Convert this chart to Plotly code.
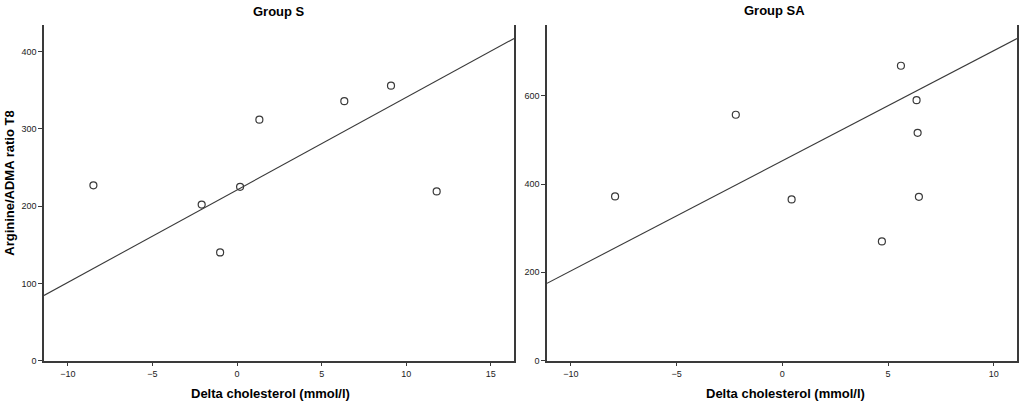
import plotly.graph_objs as go

# Group S: delta cholesterol vs arginine/ADMA ratio T8
s_x = [-8.49, -2.09, -1.0, 0.18, 1.32, 6.34, 9.10, 11.80]
s_y = [227, 202, 140, 225, 312, 336, 356, 219]
s_fit = (221.0, 11.98)  # intercept, slope

# Group SA
sa_x = [-7.91, -2.20, 0.44, 4.71, 5.61, 6.35, 6.40, 6.46]
sa_y = [372, 557, 365, 270, 668, 590, 516, 371]
sa_fit = (452.7, 24.95)

s_xrange = [-11.41, 16.37]
s_yrange = [0, 435]
sa_xrange = [-11.13, 11.1]
sa_yrange = [0, 761]

x_ticks_s = [-10, -5, 0, 5, 10, 15]
y_ticks_s = [0, 100, 200, 300, 400]
x_ticks_sa = [-10, -5, 0, 5, 10]
y_ticks_sa = [0, 200, 400, 600]

INK = "#3a3a3a"
FONT = "Liberation Sans, Arial, sans-serif"


def fit_line(fit, xr):
    b, m = fit
    return xr, [b + m * x for x in xr]


fig = go.Figure()

for xs, ys, fit, xr, ax in [(s_x, s_y, s_fit, s_xrange, ""),
                            (sa_x, sa_y, sa_fit, sa_xrange, "2")]:
    lx, ly = fit_line(fit, xr)
    fig.add_trace(go.Scatter(x=lx, y=ly, mode="lines",
                             line=dict(color=INK, width=1.1),
                             xaxis="x" + ax, yaxis="y" + ax,
                             showlegend=False, hoverinfo="skip"))
    fig.add_trace(go.Scatter(x=xs, y=ys, mode="markers",
                             marker=dict(symbol="circle-open", size=7,
                                         color=INK, line=dict(width=1.2)),
                             xaxis="x" + ax, yaxis="y" + ax,
                             showlegend=False))

tickfont = dict(family=FONT, size=9, color="#222")
common_x = dict(showgrid=False, zeroline=False, showline=True, linecolor=INK,
                linewidth=1.5, ticks="outside", ticklen=4, tickcolor=INK,
                tickfont=tickfont)
common_y = dict(showgrid=False, zeroline=False, showline=True, linecolor=INK,
                linewidth=1.5, ticks="outside", ticklen=4, tickcolor=INK,
                tickfont=tickfont, mirror=True)

ydom = [46 / 411, 386 / 411]

fig.update_layout(
    width=1024, height=411,
    margin=dict(l=0, r=0, t=0, b=0),
    paper_bgcolor="white", plot_bgcolor="white",
    xaxis=dict(common_x, domain=[44 / 1024, 514 / 1024], range=s_xrange,
               tickvals=x_ticks_s, anchor="y"),
    yaxis=dict(common_y, domain=ydom, range=s_yrange, tickvals=y_ticks_s,
               anchor="x"),
    xaxis2=dict(common_x, domain=[547 / 1024, 1017 / 1024], range=sa_xrange,
                tickvals=x_ticks_sa, anchor="y2"),
    yaxis2=dict(common_y, domain=ydom, range=sa_yrange, tickvals=y_ticks_sa,
                anchor="x2"),
)

bold = dict(family=FONT, size=13, color="black")
annots = [
    dict(text="<b>Group S</b>", x=279 / 1024, y=1 - 12 / 411),
    dict(text="<b>Group SA</b>", x=774 / 1024, y=1 - 11 / 411),
    dict(text="<b>Delta cholesterol (mmol/l)</b>", x=270 / 1024, y=1 - 398 / 411),
    dict(text="<b>Delta cholesterol (mmol/l)</b>", x=785 / 1024, y=1 - 398 / 411),
    dict(text="<b>Arginine/ADMA ratio T8</b>", x=10 / 1024, y=1 - 186 / 411,
         textangle=-90),
]
for a in annots:
    fig.add_annotation(xref="paper", yref="paper", showarrow=False,
                       xanchor="center", yanchor="middle", font=bold, **a)

# keep the page exactly the size of the figure
page_fix = """
for (const el of [document.documentElement, document.body]) {
  el.style.margin = '0';
  el.style.padding = '0';
  el.style.height = '411px';
  el.style.overflow = 'hidden';
}
"""
fig.write_html("out.html", config={"displayModeBar": False},
               post_script=page_fix)
